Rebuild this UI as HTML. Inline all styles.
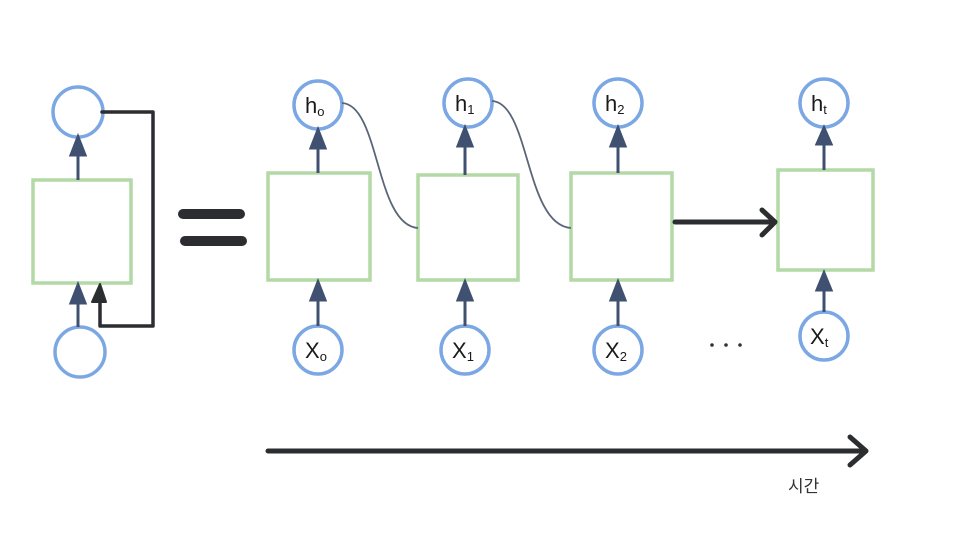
<!DOCTYPE html><html><head><meta charset="utf-8"><style>body{margin:0;background:#fff}svg{display:block}</style></head><body>
<svg width="960" height="544" viewBox="0 0 960 544" xmlns="http://www.w3.org/2000/svg">
<g fill="none" stroke="#7ba7e4" stroke-width="3.5">
<circle cx="78" cy="112" r="25"/><circle cx="80" cy="352" r="25"/>
<circle cx="318" cy="105" r="24"/><circle cx="318" cy="350" r="24"/>
<circle cx="468" cy="103" r="24"/><circle cx="465" cy="350" r="24"/>
<circle cx="618" cy="103" r="24"/><circle cx="618" cy="350" r="24"/>
<circle cx="824" cy="103" r="24"/><circle cx="824" cy="336" r="24"/>
</g>
<g fill="none" stroke="#b3d9a5" stroke-width="3.5">
<rect x="33" y="180" width="98" height="103"/>
<rect x="268" y="173" width="102" height="107"/>
<rect x="418" y="175" width="100" height="105"/>
<rect x="571" y="173" width="101" height="107"/>
<rect x="778" y="170" width="95" height="100"/>
</g>
<g stroke="#3f5070" stroke-width="3">
<line x1="78" y1="180" x2="78" y2="140"/><path d="M71,155 L78,137 L85,155Z" fill="#3f5070"/>
<line x1="78" y1="327" x2="78" y2="298"/><path d="M71,303 L78,285 L85,303Z" fill="#3f5070"/>
<line x1="318" y1="173" x2="318" y2="140"/><path d="M311,148 L318,130 L325,148Z" fill="#3f5070"/>
<line x1="318" y1="326" x2="318" y2="298"/><path d="M311,300 L318,282 L325,300Z" fill="#3f5070"/>
<line x1="465" y1="175" x2="465" y2="140"/><path d="M458,146 L465,128 L472,146Z" fill="#3f5070"/>
<line x1="465" y1="326" x2="465" y2="298"/><path d="M458,300 L465,282 L472,300Z" fill="#3f5070"/>
<line x1="618" y1="173" x2="618" y2="140"/><path d="M611,146 L618,128 L625,146Z" fill="#3f5070"/>
<line x1="618" y1="326" x2="618" y2="298"/><path d="M611,300 L618,282 L625,300Z" fill="#3f5070"/>
<line x1="824" y1="170" x2="824" y2="140"/><path d="M817,144 L824,128 L831,144Z" fill="#3f5070"/>
<line x1="824" y1="312" x2="824" y2="288"/><path d="M817,290 L824,273 L831,290Z" fill="#3f5070"/>
</g>
<g fill="none" stroke="#5a6678" stroke-width="1.8">
<path d="M342,103 C380,105 375,225 418,228"/>
<path d="M492,101 C530,103 525,225 571,228"/>
</g>
<g fill="none" stroke="#2b2d30" stroke-linecap="round" stroke-linejoin="round">
<path d="M102,112 H153 V326 H100 V298" stroke-width="3.5"/>
<path d="M92,302 L100,284 L106,302Z" fill="#2b2d30" stroke-width="2"/>
<line x1="183" y1="214" x2="240" y2="214" stroke-width="10"/>
<line x1="185" y1="241" x2="242" y2="241" stroke-width="10"/>
<line x1="675" y1="222" x2="774" y2="222" stroke-width="5"/>
<path d="M762,210 L775,222 L762,235" stroke-width="5"/>
<line x1="268" y1="451" x2="865" y2="451" stroke-width="5"/>
<path d="M850,437 L866,451 L850,465" stroke-width="5"/>
</g>
<g fill="#333" font-family="Liberation Sans, sans-serif">
<circle cx="712" cy="345" r="1.8"/><circle cx="726" cy="345" r="1.8"/><circle cx="740" cy="345" r="1.8"/>
<g font-size="22" fill="#1a1a1a"><text x="305" y="113">h<tspan font-size="13" dy="3">o</tspan></text>
<text x="455" y="111">h<tspan font-size="13" dy="3">1</tspan></text>
<text x="605" y="111">h<tspan font-size="13" dy="3">2</tspan></text>
<text x="811" y="111">h<tspan font-size="13" dy="3">t</tspan></text>
<text x="305" y="358">X<tspan font-size="13" dy="3">o</tspan></text>
<text x="452" y="358">X<tspan font-size="13" dy="3">1</tspan></text>
<text x="605" y="358">X<tspan font-size="13" dy="3">2</tspan></text>
<text x="810" y="344">X<tspan font-size="13" dy="3">t</tspan></text></g>
<text x="788" y="492" font-size="17" font-family="Liberation Sans, Noto Sans CJK KR, sans-serif">시간</text>
</g>
</svg></body></html>
